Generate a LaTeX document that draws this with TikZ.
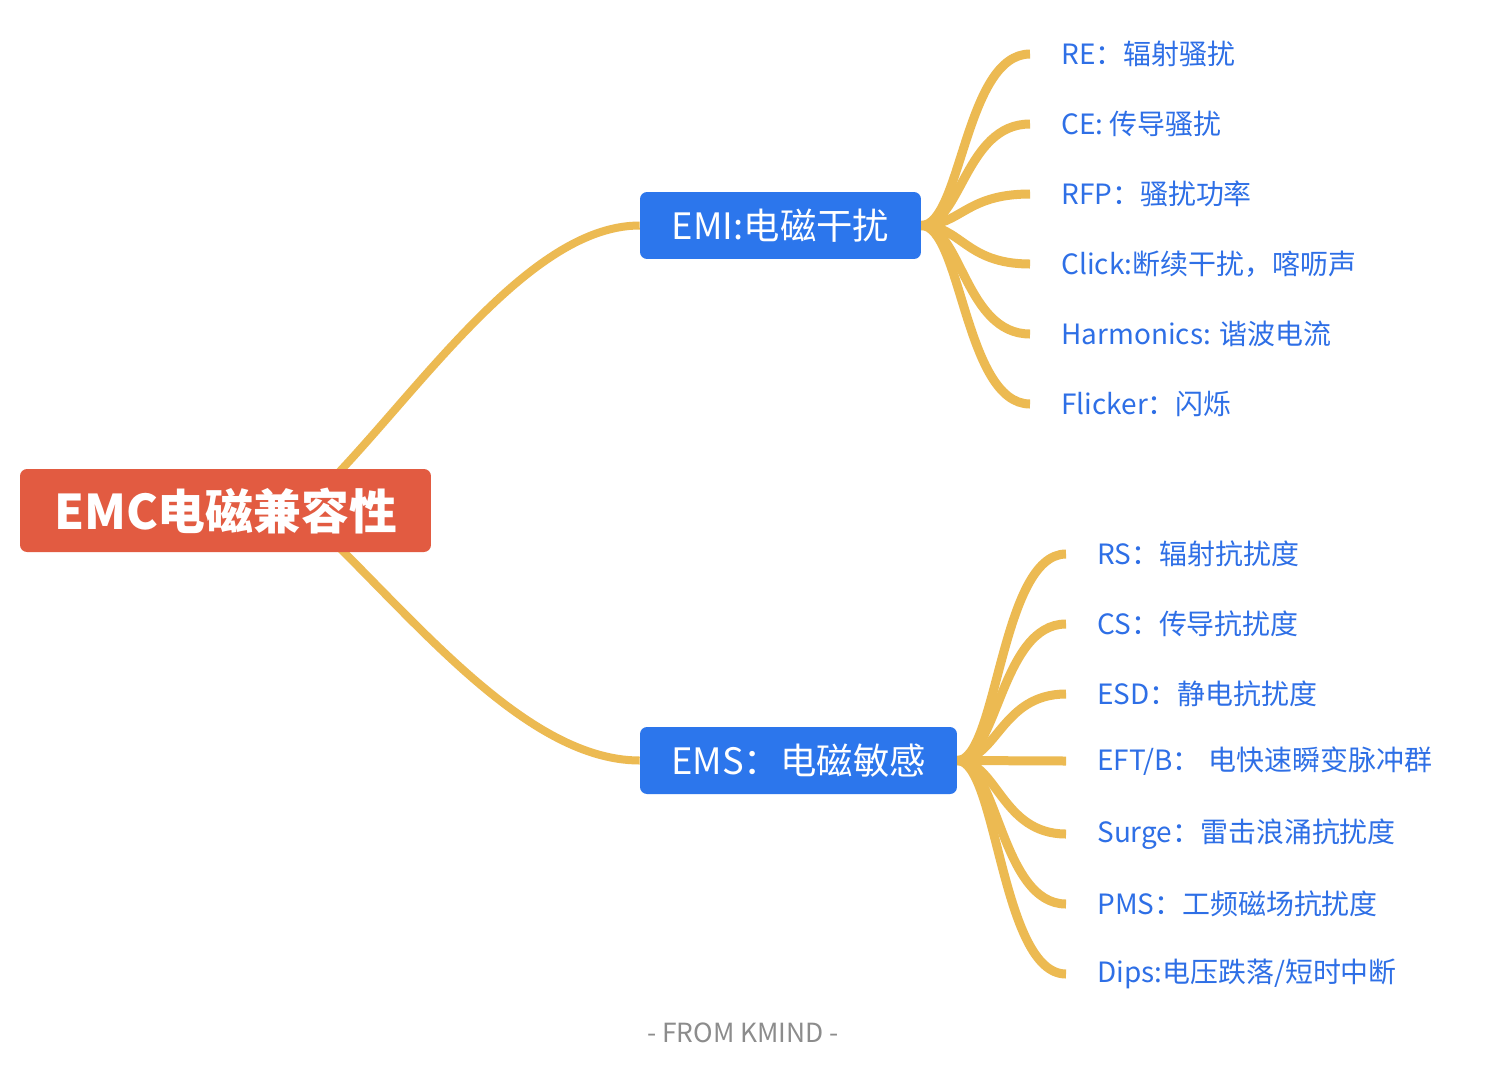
\documentclass[tikz,border=0pt]{standalone}
\usepackage{fontspec}
\setmainfont{Noto Sans CJK SC}
\usepackage{tikz}
\usetikzlibrary{calc, backgrounds}
\definecolor{rootred}{HTML}{E25B41}
\definecolor{boxblue}{HTML}{2C76EC}
\definecolor{leafblue}{HTML}{2E6FE6}
\definecolor{branchgold}{HTML}{ECBA52}

\begin{document}
\begin{tikzpicture}[
	x=0.02cm, y=-0.02cm,
	rootbox/.style={fill=rootred, text=white, rounded corners=0.14cm, minimum width=8.22cm, minimum height=1.66cm, font=\fontsize{27.2}{30}\selectfont\bfseries},
	midbox/.style={fill=boxblue, text=white, rounded corners=0.14cm, minimum height=1.34cm, font=\fontsize{20.7}{24}\selectfont},
	leaf/.style={anchor=west, text=leafblue, inner xsep=0.62cm, inner ysep=0pt, font=\fontsize{15.9}{18}\selectfont},
	branch/.style={draw=branchgold, line width=0.16cm},
	twig/.style={draw=branchgold, line width=0.18cm}
	]
		\useasboundingbox (0,0) rectangle (1486,1082);

		\node[rootbox]			(emc)		at	(225.5,510.5)		{EMC电磁兼容性};
		\node[midbox, minimum width=5.62cm]	(emi)	at	(780.5,225.5)	{EMI:电磁干扰};
		\node[midbox, minimum width=6.34cm]	(ems)	at	(798.5,760.5)	{EMS：电磁敏感};

		\node[leaf]		(re)		at	(1030,54)		{RE：辐射骚扰};
		\node[leaf]		(ce)		at	(1030,124)		{CE: 传导骚扰};
		\node[leaf]		(rfp)		at	(1030,194)		{RFP：骚扰功率};
		\node[leaf]		(click)		at	(1030,264)		{Click:断续干扰，喀呖声};
		\node[leaf]		(harm)		at	(1030,334)		{Harmonics: 谐波电流};
		\node[leaf]		(flicker)	at	(1030,404)		{Flicker：闪烁};

		\node[leaf]		(rs)		at	(1066,554)		{RS：辐射抗扰度};
		\node[leaf]		(cs)		at	(1066,624)		{CS：传导抗扰度};
		\node[leaf]		(esd)		at	(1066,694)		{ESD：静电抗扰度};
		\node[leaf]		(eft)		at	(1066,761)		{EFT/B：\hspace{0.3em}电快速瞬变脉冲群};
		\node[leaf]		(surge)		at	(1066,834)		{Surge：雷击浪涌抗扰度};
		\node[leaf]		(pms)		at	(1066,904)		{PMS：工频磁场抗扰度};
		\node[leaf]		(dips)		at	(1066,974)		{Dips:电压跌落/短时中断};

		\node[text=black!45, font=\fontsize{15}{18}\selectfont]	(kmind)	at	(743,1033)	{- FROM KMIND -};

		\begin{pgfonlayer}{background}
		\fill[white] (0,0) rectangle (1486,1082);

		\draw[branch] ($(emc.center)+(75,0)$) .. controls +(100,-90) and +(-120,0) .. (emi.west);
		\draw[branch] ($(emc.center)+(75,0)$) .. controls +(100,90) and +(-120,0) .. (ems.west);

		\draw[twig] (emi.east) .. controls +(40,0) and +(-65,0) .. (re.west);
		\draw[twig] (emi.east) .. controls +(40,0) and +(-65,0) .. (ce.west);
		\draw[twig] (emi.east) .. controls +(40,0) and +(-65,0) .. (rfp.west);
		\draw[twig] (emi.east) .. controls +(40,0) and +(-65,0) .. (click.west);
		\draw[twig] (emi.east) .. controls +(40,0) and +(-65,0) .. (harm.west);
		\draw[twig] (emi.east) .. controls +(40,0) and +(-65,0) .. (flicker.west);

		\draw[twig] (ems.east) .. controls +(40,0) and +(-65,0) .. (rs.west);
		\draw[twig] (ems.east) .. controls +(40,0) and +(-65,0) .. (cs.west);
		\draw[twig] (ems.east) .. controls +(40,0) and +(-65,0) .. (esd.west);
		\draw[twig] (ems.east) -- (eft.west);
		\draw[twig] (ems.east) .. controls +(40,0) and +(-65,0) .. (surge.west);
		\draw[twig] (ems.east) .. controls +(40,0) and +(-65,0) .. (pms.west);
		\draw[twig] (ems.east) .. controls +(40,0) and +(-65,0) .. (dips.west);
		\end{pgfonlayer}
	\end{tikzpicture}
\end{document}
